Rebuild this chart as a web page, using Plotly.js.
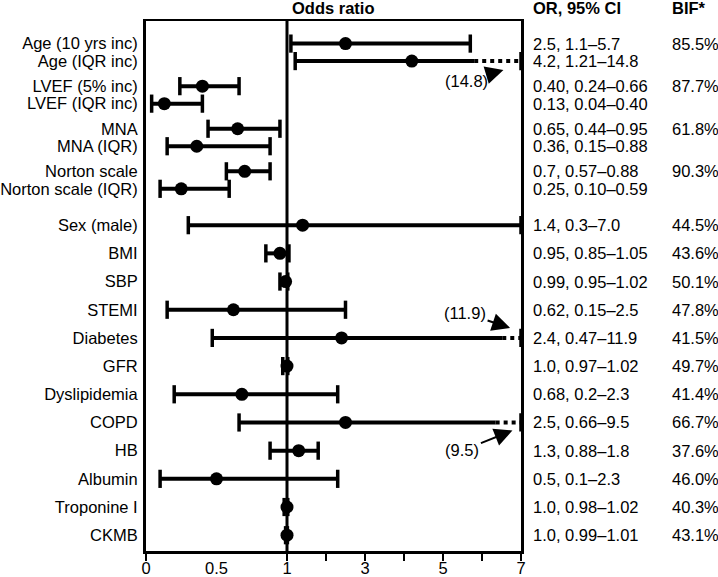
<!DOCTYPE html>
<html><head><meta charset="utf-8">
<script src="https://cdn.plot.ly/plotly-3.0.1.min.js"></script>
<style>html,body{margin:0;padding:0;background:#fff}</style>
</head><body><div id="chart" style="width:718px;height:577px"></div>
<script>
// ---------- data ----------
const labels = ['Age (10 yrs inc)','Age (IQR inc)','LVEF (5% inc)','LVEF (IQR inc)','MNA','MNA (IQR)','Norton scale','Norton scale (IQR)',
  'Sex (male)','BMI','SBP','STEMI','Diabetes','GFR','Dyslipidemia','COPD','HB','Albumin','Troponine I','CKMB'];
const orVals = [2.5,4.2,0.40,0.13,0.65,0.36,0.7,0.25,1.4,0.95,0.99,0.62,2.4,1.0,0.68,2.5,1.3,0.5,1.0,1.0];
const loVals = [1.1,1.21,0.24,0.04,0.44,0.15,0.57,0.10,0.3,0.85,0.95,0.15,0.47,0.97,0.2,0.66,0.88,0.1,0.98,0.99];
const hiVals = [5.7,14.8,0.66,0.40,0.95,0.88,0.88,0.59,7.0,1.05,1.02,2.5,11.9,1.02,2.3,9.5,1.8,2.3,1.02,1.01];
const ciText = ['2.5, 1.1–5.7','4.2, 1.21–14.8','0.40, 0.24–0.66','0.13, 0.04–0.40','0.65, 0.44–0.95','0.36, 0.15–0.88',
  '0.7, 0.57–0.88','0.25, 0.10–0.59','1.4, 0.3–7.0','0.95, 0.85–1.05','0.99, 0.95–1.02','0.62, 0.15–2.5','2.4, 0.47–11.9',
  '1.0, 0.97–1.02','0.68, 0.2–2.3','2.5, 0.66–9.5','1.3, 0.88–1.8','0.5, 0.1–2.3','1.0, 0.98–1.02','1.0, 0.99–1.01'];
const bifText = ['85.5%','','87.7%','','61.8%','','90.3%','','44.5%','43.6%','50.1%','47.8%','41.5%','49.7%','41.4%','66.7%','37.6%','46.0%','40.3%','43.1%'];
const tickValues = [0,1,2,3,4,5,6,7];
const tickLabels = ['0','1','','3','','5','','7'];
const extraTickLabel = 0.5;
const axisMax = 7;

// ---------- style / layout helpers ----------
const FONT = 'Liberation Sans, Arial, Helvetica, sans-serif';
const FS = 16.5;
const RIGHT_COMP = 39/141;               // compressed scale above OR = 1
function u(v){ return v <= 1 ? v : 1 + (v - 1) * RIGHT_COMP; }
// where the solid part of a truncated CI stops before the dotted part
const solidStop = {'Age (IQR inc)':5.8, 'Diabetes':6.52, 'COPD':6.35};
// arrow-label placement for truncated CIs: head value, head y offset, text offsets
const arrowStyle = {'Age (IQR inc)':{hv:6.55,dy:9,ax:-37,ay:11}, 'Diabetes':{hv:6.72,dy:-10,ax:-45,ay:-15}, 'COPD':{hv:6.78,dy:8,ax:-50,ay:20}};

const yPos = labels.map((_, i) => i < 8 ? 22.6 + Math.floor(i/2)*42.6 + (i%2)*17.5 : 204.3 + (i-8)*28.2);

const solidX = [], solidY = [], dotX = [], dotY = [], capX = [], capY = [];
labels.forEach((lab, i) => {
  const y = yPos[i];
  const clipped = hiVals[i] > axisMax;
  const endSolid = clipped ? solidStop[lab] : hiVals[i];
  solidX.push(u(loVals[i]), u(endSolid), null); solidY.push(y, y, null);
  if (clipped) { dotX.push(u(endSolid), u(axisMax), null); dotY.push(y, y, null); }
  capX.push(u(loVals[i]), u(Math.min(hiVals[i], axisMax))); capY.push(y, y);
});

const traces = [
  {x: solidX, y: solidY, mode: 'lines', line: {color: '#000', width: 4}, hoverinfo: 'skip', showlegend: false},
  {x: dotX, y: dotY, mode: 'lines', line: {color: '#000', width: 4, dash: 'dot'}, hoverinfo: 'skip', showlegend: false},
  {x: orVals.map(u), y: yPos, mode: 'markers', marker: {symbol: 'circle', size: 13, color: '#000'}, showlegend: false},
  {x: capX, y: capY, mode: 'markers', marker: {symbol: 'line-ns', size: 13, line: {color: '#000', width: 3.5}}, hoverinfo: 'skip', showlegend: false}
];

const annotations = [];
const txt = (o) => Object.assign({showarrow: false, font: {family: FONT, size: FS, color: '#000'}}, o);
annotations.push(txt({text: '<b>Odds ratio</b>', xref: 'paper', yref: 'paper', x: 0.5, y: 1, yanchor: 'middle', yshift: 13}));
annotations.push(txt({text: '<b>OR, 95% CI</b>', xref: 'paper', yref: 'paper', x: 1, y: 1, xanchor: 'left', yanchor: 'middle', xshift: 10, yshift: 13}));
annotations.push(txt({text: '<b>BIF*</b>', xref: 'paper', yref: 'paper', x: 1, y: 1, xanchor: 'left', yanchor: 'middle', xshift: 149, yshift: 13}));
annotations.push(txt({text: String(extraTickLabel), xref: 'x', yref: 'paper', x: u(extraTickLabel), y: 0, yanchor: 'middle', yshift: -17}));
labels.forEach((lab, i) => {
  annotations.push(txt({text: ciText[i], xref: 'paper', yref: 'y', x: 1, y: yPos[i], xanchor: 'left', xshift: 10}));
  if (bifText[i]) annotations.push(txt({text: bifText[i], xref: 'paper', yref: 'y', x: 1, y: yPos[i], xanchor: 'left', xshift: 149}));
  if (hiVals[i] > axisMax) {
    const s = arrowStyle[lab];
    annotations.push({text: '(' + hiVals[i] + ')', xref: 'x', yref: 'y', x: u(s.hv), y: yPos[i] + s.dy, ax: s.ax, ay: s.ay,
      showarrow: true, arrowhead: 2, arrowsize: 1.8, arrowwidth: 2, arrowcolor: '#000', standoff: 0, startstandoff: 0,
      font: {family: FONT, size: FS, color: '#000'}});
  }
});

const layout = {
  width: 718, height: 577,
  margin: {l: 146, r: 197, t: 21, b: 26, pad: 0},
  paper_bgcolor: '#fff', plot_bgcolor: '#fff',
  font: {family: FONT, size: FS, color: '#000'},
  xaxis: {range: [0, u(axisMax)], tickvals: tickValues.map(u), ticktext: tickLabels, ticks: 'outside', ticklen: 7, tickwidth: 2.5, tickcolor: '#000',
    ticklabelstandoff: -6,
    showline: true, mirror: true, linewidth: 2.5, linecolor: '#000', showgrid: false, zeroline: false, tickfont: {family: FONT, size: FS, color: '#000'}},
  yaxis: {range: [530.3, 0], tickvals: yPos, ticktext: labels, ticks: '', showline: true, mirror: true, linewidth: 3, linecolor: '#000',
    showgrid: false, zeroline: false, tickfont: {family: FONT, size: FS, color: '#000'}, ticklabelstandoff: 2},
  shapes: [{type: 'line', xref: 'x', yref: 'paper', x0: u(1), x1: u(1), y0: 0, y1: 1, line: {color: '#000', width: 3}}],
  annotations: annotations
};
Plotly.newPlot('chart', traces, layout, {displayModeBar: false, staticPlot: true});
</script>
</body></html>
